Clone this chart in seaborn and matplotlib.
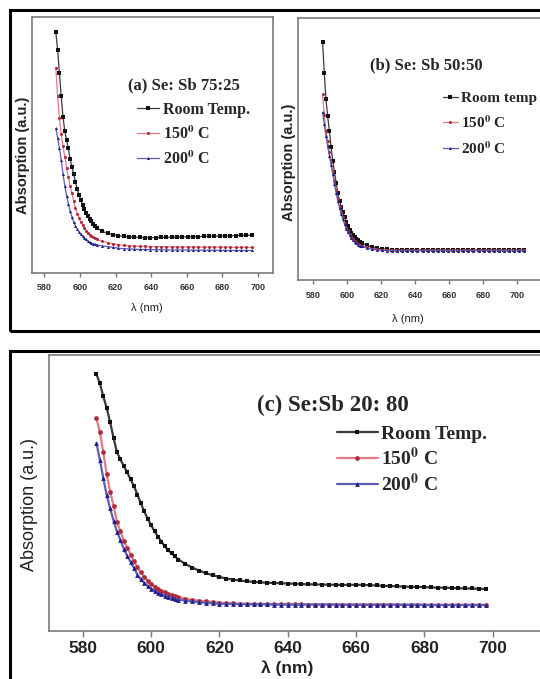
import numpy as np
import matplotlib
matplotlib.use("Agg")
import matplotlib.pyplot as plt
import seaborn as sns
from matplotlib.patches import Rectangle

# absorption, scaled 0..1 of each panel's plot height
x_ticks = [580, 600, 620, 640, 660, 680, 700]

# (a) Se:Sb 75:25
a_wl = np.r_[np.arange(586.5, 610, 1.0), np.arange(612.5, 697, 3.0)]
a_room = [0.94, 0.87, 0.78, 0.69, 0.61, 0.555, 0.52, 0.487, 0.445, 0.415, 0.385, 0.355,
          0.328, 0.305, 0.285, 0.265, 0.250, 0.236, 0.223, 0.212, 0.202, 0.193, 0.182, 0.176,
          0.163, 0.155, 0.150, 0.146, 0.143, 0.141, 0.140, 0.139, 0.138, 0.138, 0.138, 0.139,
          0.139, 0.140, 0.140, 0.141, 0.141, 0.142, 0.142, 0.143, 0.143, 0.144, 0.144, 0.145,
          0.146, 0.146, 0.147, 0.147, 0.148]
a_150 = [0.80, 0.69, 0.605, 0.542, 0.497, 0.455, 0.41, 0.375, 0.341, 0.311, 0.281, 0.252,
         0.232, 0.214, 0.199, 0.186, 0.175, 0.165, 0.157, 0.150, 0.144, 0.139, 0.135, 0.131,
         0.124, 0.119, 0.114, 0.111, 0.108, 0.106, 0.105, 0.104, 0.104, 0.103, 0.103, 0.103,
         0.103, 0.102, 0.102, 0.102, 0.102, 0.102, 0.101, 0.101, 0.101, 0.101, 0.101, 0.101,
         0.100, 0.100, 0.100, 0.100, 0.100]
a_200 = [0.565, 0.528, 0.487, 0.442, 0.387, 0.341, 0.302, 0.271, 0.243, 0.218, 0.199, 0.184,
         0.172, 0.161, 0.152, 0.144, 0.137, 0.131, 0.125, 0.120, 0.117, 0.114, 0.112, 0.110,
         0.106, 0.103, 0.100, 0.097, 0.095, 0.094, 0.093, 0.092, 0.092, 0.091, 0.091, 0.091,
         0.090, 0.090, 0.090, 0.090, 0.090, 0.089, 0.089, 0.089, 0.089, 0.089, 0.089, 0.088,
         0.088, 0.088, 0.088, 0.088, 0.088]

# (b) Se:Sb 50:50
b_wl = np.r_[np.arange(585.5, 609, 1.0), np.arange(611.5, 705, 3.0)]
b_room = [0.91, 0.79, 0.69, 0.625, 0.57, 0.508, 0.455, 0.413, 0.372, 0.332, 0.301, 0.280,
          0.259, 0.240, 0.220, 0.205, 0.192, 0.180, 0.171, 0.163, 0.157, 0.152, 0.146, 0.141,
          0.132, 0.126, 0.121, 0.119, 0.117, 0.116, 0.116, 0.116, 0.115, 0.115, 0.115, 0.115,
          0.115, 0.115, 0.115, 0.115, 0.115, 0.115, 0.115, 0.115, 0.115, 0.115, 0.115, 0.115,
          0.115, 0.115, 0.115, 0.115, 0.115, 0.115, 0.115, 0.115]
b_150 = [0.71, 0.63, 0.57, 0.53, 0.488, 0.452, 0.415, 0.378, 0.342, 0.310, 0.282, 0.260,
         0.239, 0.218, 0.200, 0.187, 0.175, 0.165, 0.157, 0.150, 0.144, 0.139, 0.135, 0.131,
         0.125, 0.120, 0.117, 0.115, 0.114, 0.114, 0.113, 0.113, 0.113, 0.113, 0.113, 0.113,
         0.113, 0.113, 0.113, 0.113, 0.113, 0.113, 0.113, 0.113, 0.113, 0.113, 0.113, 0.113,
         0.113, 0.113, 0.113, 0.113, 0.113, 0.113, 0.113, 0.113]
b_200 = [0.64, 0.595, 0.55, 0.51, 0.475, 0.44, 0.404, 0.366, 0.332, 0.300, 0.275, 0.253,
         0.232, 0.212, 0.196, 0.183, 0.171, 0.161, 0.153, 0.146, 0.140, 0.135, 0.131, 0.128,
         0.122, 0.118, 0.115, 0.113, 0.112, 0.112, 0.112, 0.112, 0.112, 0.112, 0.112, 0.112,
         0.112, 0.112, 0.112, 0.112, 0.112, 0.112, 0.112, 0.112, 0.112, 0.112, 0.112, 0.112,
         0.112, 0.112, 0.112, 0.112, 0.112, 0.112, 0.112, 0.112]

# (c) Se:Sb 20:80
c_wl = np.r_[np.arange(584, 608, 1.0), np.arange(608, 699, 2.0)]
c_room = [0.93, 0.897, 0.85, 0.808, 0.757, 0.700, 0.648, 0.622, 0.598, 0.575, 0.549, 0.524,
          0.494, 0.462, 0.433, 0.407, 0.383, 0.362, 0.342, 0.324, 0.307, 0.293, 0.281, 0.270,
          0.259, 0.243, 0.230, 0.219, 0.210, 0.202, 0.196, 0.190, 0.186, 0.183, 0.180, 0.178,
          0.176, 0.175, 0.174, 0.173, 0.172, 0.171, 0.170, 0.169, 0.169, 0.168, 0.168, 0.167,
          0.167, 0.167, 0.167, 0.167, 0.166, 0.165, 0.164, 0.163, 0.162, 0.161, 0.160, 0.160,
          0.159, 0.158, 0.157, 0.157, 0.156, 0.155, 0.154, 0.154, 0.153, 0.152]
c_150 = [0.77, 0.72, 0.648, 0.568, 0.505, 0.454, 0.395, 0.363, 0.327, 0.302, 0.277, 0.252,
         0.231, 0.212, 0.195, 0.181, 0.170, 0.161, 0.153, 0.146, 0.140, 0.135, 0.130, 0.126,
         0.123, 0.117, 0.113, 0.110, 0.107, 0.105, 0.103, 0.101, 0.100,
         0.099, 0.099, 0.098, 0.098, 0.098, 0.097, 0.097, 0.097, 0.097, 0.097,
         0.096, 0.096, 0.096, 0.096, 0.096, 0.096, 0.096, 0.096, 0.096, 0.096, 0.096, 0.096,
         0.096, 0.096, 0.095, 0.095, 0.095, 0.095, 0.095, 0.095, 0.095, 0.095, 0.095, 0.095,
         0.095, 0.095, 0.095]
c_200 = [0.68, 0.62, 0.553, 0.493, 0.444, 0.400, 0.360, 0.330, 0.298, 0.272, 0.250, 0.228,
         0.204, 0.187, 0.174, 0.163, 0.153, 0.146, 0.139, 0.133, 0.128, 0.124, 0.120, 0.117,
         0.114, 0.110, 0.107, 0.104, 0.102, 0.100, 0.099, 0.098, 0.098,
         0.097, 0.097, 0.097, 0.097, 0.097, 0.096, 0.096, 0.096, 0.096, 0.096, 0.096, 0.096,
         0.096, 0.096, 0.096, 0.095, 0.095, 0.095, 0.095, 0.095, 0.095, 0.095, 0.095, 0.095,
         0.095, 0.095, 0.095, 0.094, 0.094, 0.094, 0.094, 0.094, 0.094, 0.094, 0.094, 0.094,
         0.094]

labels_ac = ["Room Temp.", r"150$^{\mathbf{0}}$ C", r"200$^{\mathbf{0}}$ C"]
labels_b = ["Room temp", r"150$^{\mathbf{0}}$ C", r"200$^{\mathbf{0}}$ C"]

sns.set_style("white")
plt.rcParams["font.family"] = ["Liberation Sans", "DejaVu Sans"]
plt.rcParams["mathtext.fontset"] = "stix"
SERIF = ["Liberation Serif", "DejaVu Serif"]

styles = [
    dict(marker="s", color="#3a3a3a", mfc="#111111", mec="#111111"),
    dict(marker="o", color="#e07a86", mfc="#b02a3c", mec="#b02a3c"),
    dict(marker="^", color="#5c5cb0", mfc="#1c1c8c", mec="#1c1c8c"),
]

W, H = 540, 679
fig = plt.figure(figsize=(W / 100, H / 100), dpi=100)


def px_axes(left, top, right, bottom):
    return fig.add_axes([left / W, 1 - bottom / H, (right - left) / W, (bottom - top) / H])


def panel(ax, wl, series, labels, xlim, ms, lw, tick_fs, tick_len, tick_pad, ylab_fs,
          ylab_w, ylab_xy, xlab_fs, xlab_w, xlab_xy):
    for ys, lab, st in zip(series, labels, styles):
        sns.lineplot(x=wl, y=ys, ax=ax, label=lab, lw=lw, ms=ms, mew=0, **st)
    ax.set_xlim(*xlim)
    ax.set_ylim(0, 1)
    ax.set_yticks([])
    ax.set_xticks(x_ticks, labels=[str(t) for t in x_ticks], fontsize=tick_fs,
                  fontweight="bold", color="#333333")
    ax.tick_params(axis="x", bottom=True, length=tick_len, width=1, color="#777777",
                   pad=tick_pad)
    for sp in ax.spines.values():
        sp.set_color("#7a7a7a")
        sp.set_linewidth(1.2)
    ax.set_ylabel("Absorption (a.u.)", fontsize=ylab_fs, fontweight=ylab_w, color="#222222")
    ax.yaxis.set_label_coords(*ylab_xy)
    ax.set_xlabel("λ (nm)", fontsize=xlab_fs, fontweight=xlab_w, color="#222222")
    ax.xaxis.set_label_coords(*xlab_xy)


# panel (a)
ax_a = px_axes(32, 17, 273, 273)
panel(ax_a, a_wl, [a_room, a_150, a_200], labels_ac, (573.1, 708.4), 2.2, 0.9, 6.5, 3, 4.5,
      10.5, "bold", (-0.01, 0.46), 8, "normal", (0.477, -0.118))
ax_a.text(0.398, 0.734, "(a) Se: Sb 75:25", transform=ax_a.transAxes, ha="left",
          va="center", fontsize=12, fontweight="bold", family=SERIF)
ax_a.legend(loc="upper left", bbox_to_anchor=(0.436, 0.668), frameon=False, borderpad=0,
            borderaxespad=0, handlelength=1.4, handletextpad=0.25, labelspacing=0.48,
            prop=dict(family=SERIF, weight="bold", size=11.5))

# panel (b)
ax_b = px_axes(298, 18, 548, 280)
panel(ax_b, b_wl, [b_room, b_150, b_200], labels_b, (571.0, 718.5), 2.2, 0.9, 6.5, 3, 5,
      10.5, "bold", (-0.008, 0.45), 8, "normal", (0.44, -0.128))
ax_b.text(0.288, 0.821, "(b) Se: Sb 50:50", transform=ax_b.transAxes, ha="left",
          va="center", fontsize=12, fontweight="bold", family=SERIF)
ax_b.legend(loc="upper left", bbox_to_anchor=(0.58, 0.72), frameon=False, borderpad=0,
            borderaxespad=0, handlelength=0.95, handletextpad=0.2, labelspacing=0.6,
            prop=dict(family=SERIF, weight="bold", size=11))

# panel (c)
ax_c = px_axes(49, 355, 550, 631)
panel(ax_c, c_wl, [c_room, c_150, c_200], labels_ac, (570.1, 716.8), 3.4, 1.6, 12.5, 4, 3,
      13, "normal", (-0.022, 0.457), 12.5, "bold", (0.475, -0.108))
for lab in ax_c.get_xticklabels():
    lab.set_color("#222222")
ax_c.text(0.415, 0.819, "(c) Se:Sb 20: 80", transform=ax_c.transAxes, ha="left",
          va="center", fontsize=16.5, fontweight="bold", family=SERIF)
ax_c.legend(loc="upper left", bbox_to_anchor=(0.575, 0.745), frameon=False, borderpad=0,
            borderaxespad=0, handlelength=2.1, handletextpad=0.15, labelspacing=0.2,
            prop=dict(family=SERIF, weight="bold", size=14))

# black frames around the two rows
fig.add_artist(Rectangle((10 / W, 1 - 331 / H), 540 / W, 321 / H, transform=fig.transFigure,
                         fill=False, lw=2.2, ec="black"))
fig.add_artist(Rectangle((10 / W, -0.02), 540 / W, 1 - 351 / H + 0.02,
                         transform=fig.transFigure, fill=False, lw=2.2, ec="black"))

fig.savefig("out.png", dpi=100)
